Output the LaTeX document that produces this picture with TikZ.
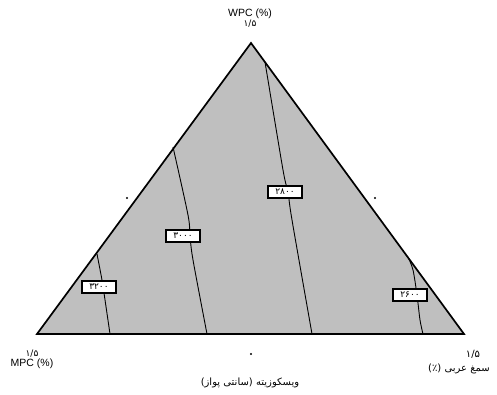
\documentclass[tikz,border=0pt]{standalone}
\usepackage{fontspec}
\setmainfont{Liberation Sans}
\newfontfamily\arabicfont[Script=Arabic]{DejaVu Sans}
\TeXXeTstate=1
\usetikzlibrary{calc}

\begin{document}
\begin{tikzpicture}[x=1pt,y=1pt,
    lab/.style={draw, line width=1.4pt, fill=white, minimum width=34,
      minimum height=12, inner sep=1pt,
      font=\arabicfont\fontsize{9}{9}\selectfont},
    axis/.style={align=center, font=\fontsize{10.5}{13}\selectfont},
    fa/.style={font=\arabicfont\fontsize{10}{12}\selectfont},
    contour/.style={line width=0.9pt}]
  \useasboundingbox (0,0) rectangle (497,394);

  \coordinate (L) at (37,60);
  \coordinate (R) at (464,60);
  \coordinate (T) at (251,351);
  \filldraw[fill=gray!50, line width=1.7pt] (L) -- (R) -- (T) -- cycle;

  \draw[contour] plot[smooth, tension=0.5] coordinates {(97,140) (102,114) (104,101) (110,60)};
  \draw[contour] plot[smooth, tension=0.5] coordinates {(173,247) (188,179) (190,158) (193,134) (207,60)};
  \draw[contour] plot[smooth, tension=0.5] coordinates {(265,332) (283,224) (288,202) (292,174) (312,60)};
  \draw[contour] plot[smooth, tension=0.5] coordinates {(408,137) (413,124) (417,99) (420,74) (423,60)};

  \node[lab] (A) at (99,107) {۳۲۰۰};
  \node[lab] (B) at (183,158) {۳۰۰۰};
  \node[lab] (C) at (285,202) {۲۸۰۰};
  \node[lab] (D) at (410,99) {۲۶۰۰};

  \fill (127,196) circle (1.1);
  \fill (375,196) circle (1.1);
  \fill (251,40) circle (1.1);

  \node[axis] (wpc) at (250,376) {WPC (\%)\\[-3pt]{\arabicfont\fontsize{9}{9}\selectfont ۱/۵}};
  \node[axis] (mpc) at (32,35) {{\arabicfont\fontsize{9}{9}\selectfont ۱/۵}\\[-3pt]MPC (\%)};
  \node[fa] (gum1) at (473,40) {۱/۵};
  \node[fa] (gum) at (459,25) {\beginR سمغ عربی (٪)\endR};
  \node[fa] (visc) at (250,11) {\beginR ویسکوزیته (سانتی پواز)\endR};
\end{tikzpicture}
\end{document}
